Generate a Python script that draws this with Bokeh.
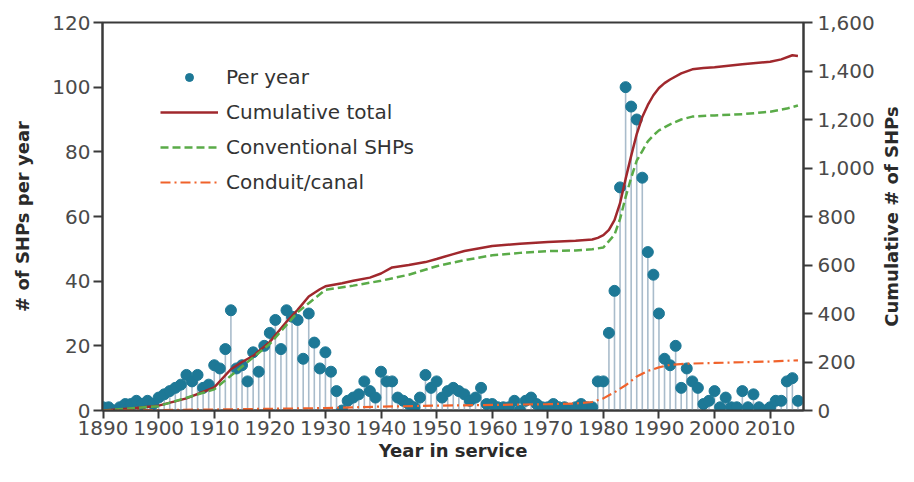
import math
from bokeh.plotting import figure
from bokeh.layouts import row
from bokeh.models import (Range1d, LinearAxis, FixedTicker, NumeralTickFormatter,
                          Legend, LegendItem)
from bokeh.core.properties import value
from bokeh.embed import file_html
from bokeh.resources import INLINE

# ---- data ----
years = list(range(1890, 2016))
per_year = [
    1, 1, 0, 1, 2, 2, 3, 2, 3, 2,            # 1890s
    4, 5, 6, 7, 8, 11, 9, 11, 7, 8,          # 1900s
    14, 13, 19, 31, 13, 14, 9, 18, 12, 20,   # 1910s
    24, 28, 19, 31, 29, 28, 16, 30, 21, 13,  # 1920s
    18, 12, 6, 0, 3, 4, 5, 9, 6, 4,          # 1930s
    12, 9, 9, 4, 3, 2, 1, 4, 11, 7,          # 1940s
    9, 4, 6, 7, 6, 5, 3, 4, 7, 2,            # 1950s
    2, 1, 1, 1, 3, 0, 3, 4, 2, 1,            # 1960s
    1, 2, 1, 1, 0, 1, 2, 1, 1, 9,            # 1970s
    9, 24, 37, 69, 100, 94, 90, 72, 49, 42,  # 1980s
    30, 16, 14, 20, 7, 13, 9, 7, 2, 3,       # 1990s
    6, 1, 4, 1, 1, 6, 1, 5, 1, 0,            # 2000s
    1, 3, 3, 9, 10, 3,                       # 2010s
]

total_years = [1890, 1895, 1900, 1905, 1910, 1913, 1915, 1917, 1920, 1923, 1925, 1927,
               1929, 1930, 1933, 1935, 1938, 1940, 1942, 1945, 1948, 1950, 1953, 1955,
               1958, 1960, 1965, 1970, 1975, 1978, 1979, 1980, 1981, 1982, 1983, 1984,
               1985, 1986, 1987, 1988, 1989, 1990, 1991, 1992, 1994, 1996, 1998, 2000,
               2005, 2010, 2012, 2014, 2015]
total_vals = [0, 8, 20, 50, 95, 170, 200, 225, 283, 366, 415, 470,
              500, 512, 525, 535, 548, 565, 590, 600, 612, 625, 645, 658,
              670, 678, 688, 695, 700, 705, 712, 723, 745, 785, 855, 955,
              1050, 1140, 1210, 1260, 1300, 1330, 1350, 1365, 1390, 1407, 1412, 1415,
              1428, 1438, 1448, 1465, 1462]

conv_years = [1890, 1900, 1910, 1920, 1925, 1930, 1935, 1940, 1945, 1950, 1955, 1960,
              1965, 1970, 1975, 1978, 1980, 1982, 1983, 1984, 1985, 1986, 1987, 1988,
              1989, 1990, 1992, 1994, 1996, 2000, 2005, 2010, 2013, 2015]
conv_vals = [0, 18, 87, 275, 405, 498, 515, 535, 560, 595, 620, 640,
             650, 657, 660, 665, 672, 725, 790, 880, 960, 1030, 1070, 1110,
             1135, 1155, 1180, 1200, 1212, 1217, 1222, 1232, 1245, 1258]

conduit_years = [1890, 1900, 1910, 1920, 1930, 1940, 1950, 1960, 1970, 1975, 1978, 1980,
                 1982, 1984, 1986, 1988, 1990, 1992, 1995, 2000, 2005, 2010, 2015]
conduit_vals = [0, 2, 4, 7, 10, 16, 20, 23, 26, 29, 35, 50,
                75, 104, 140, 163, 178, 188, 193, 196, 199, 202, 207]

left_ticks = [0, 20, 40, 60, 80, 100, 120]
right_ticks = [0, 200, 400, 600, 800, 1000, 1200, 1400, 1600]
x_ticks = list(range(1890, 2011, 10))

right_title = "Cumulative # of SHPs"

FONT = "DejaVu Sans"
AXIS_COLOR = "#3a3a3a"
TICK_TEXT = "#4a4a4a"
TITLE_COLOR = "#2a2a2a"

p = figure(width=877, height=466,
           x_range=Range1d(1889.9, 2016.0), y_range=Range1d(0, 120),
           output_backend="svg", toolbar_location=None,
           min_border_left=102, min_border_right=72,
           min_border_top=22, min_border_bottom=56)
p.extra_y_ranges = {"cum": Range1d(0, 1600)}

p.xgrid.visible = False
p.ygrid.visible = False
p.outline_line_color = AXIS_COLOR
p.outline_line_width = 2
p.background_fill_color = "white"
p.border_fill_color = "white"

# stems + points
p.segment(x0=years, y0=[0] * len(years), x1=years, y1=per_year,
          line_color="#a9bccb", line_width=1.6)
pts = p.scatter(x=years, y=per_year, size=11, marker="circle",
                fill_color="#1d7896", line_color="#1d7896")

# cumulative lines
r_total = p.line(total_years, total_vals, y_range_name="cum",
                 line_color="#a0282d", line_width=2.5)
r_conv = p.line(conv_years, conv_vals, y_range_name="cum",
                line_color="#5aab48", line_width=2.5, line_dash="8 4")
r_cond = p.line(conduit_years, conduit_vals, y_range_name="cum",
                line_color="#f0622b", line_width=2.2, line_dash="10 4 2 4")

# axes
def style_axis(ax):
    ax.axis_line_color = AXIS_COLOR
    ax.axis_line_width = 2
    ax.major_tick_line_color = AXIS_COLOR
    ax.major_tick_line_width = 2
    ax.major_tick_in = 0
    ax.major_tick_out = 9
    ax.minor_tick_line_color = None
    ax.major_label_text_font = FONT
    ax.major_label_text_font_size = "20px"
    ax.major_label_text_color = TICK_TEXT
    ax.major_label_standoff = 3
    ax.axis_label_text_font = FONT
    ax.axis_label_text_font_style = "bold"
    ax.axis_label_text_font_size = "18px"
    ax.axis_label_text_color = TITLE_COLOR

xa = p.xaxis[0]
xa.ticker = FixedTicker(ticks=x_ticks)
xa.axis_label = "Year in service"
style_axis(xa)
xa.major_tick_out = 8
xa.major_label_standoff = 2
xa.axis_label_standoff = 2

ya = p.yaxis[0]
ya.ticker = FixedTicker(ticks=left_ticks)
ya.axis_label = "# of SHPs per year"
style_axis(ya)
ya.axis_label_standoff = 16

ra = LinearAxis(y_range_name="cum", ticker=FixedTicker(ticks=right_ticks),
                formatter=NumeralTickFormatter(format="0,0"))
style_axis(ra)
ra.major_label_standoff = 5
p.add_layout(ra, "right")

legend = Legend(items=[
    LegendItem(label="Per year", renderers=[pts]),
    LegendItem(label="Cumulative total", renderers=[r_total]),
    LegendItem(label="Conventional SHPs", renderers=[r_conv]),
    LegendItem(label="Conduit/canal", renderers=[r_cond]),
], location=(58, 216))
legend.background_fill_alpha = 0
legend.border_line_color = None
legend.label_text_font = FONT
legend.label_text_font_size = "20px"
legend.label_text_color = "#333333"
legend.glyph_width = 58
legend.glyph_height = 20
legend.label_height = 20
legend.spacing = 11
legend.label_standoff = 8
legend.padding = 0
legend.margin = 0
p.add_layout(legend, "center")

# narrow companion panel carrying the right-hand axis title (reads bottom-to-top)
p2 = figure(width=27, height=466, x_range=Range1d(0, 1), y_range=p.y_range,
            output_backend="svg", toolbar_location=None,
            x_axis_location=None, y_axis_location=None,
            min_border_left=0, min_border_right=0,
            min_border_top=22, min_border_bottom=56)
p2.xgrid.visible = False
p2.ygrid.visible = False
p2.outline_line_color = None
p2.background_fill_color = "white"
p2.border_fill_color = "white"
p2.text(x=[0.5], y=[60], text=[right_title], angle=math.pi / 2,
        text_align="center", text_baseline="middle",
        text_font=value(FONT), text_font_style="bold", text_font_size="18px",
        text_color=TITLE_COLOR)

layout = row(p, p2, spacing=0)

open("out.html", "w").write(file_html(layout, INLINE))
